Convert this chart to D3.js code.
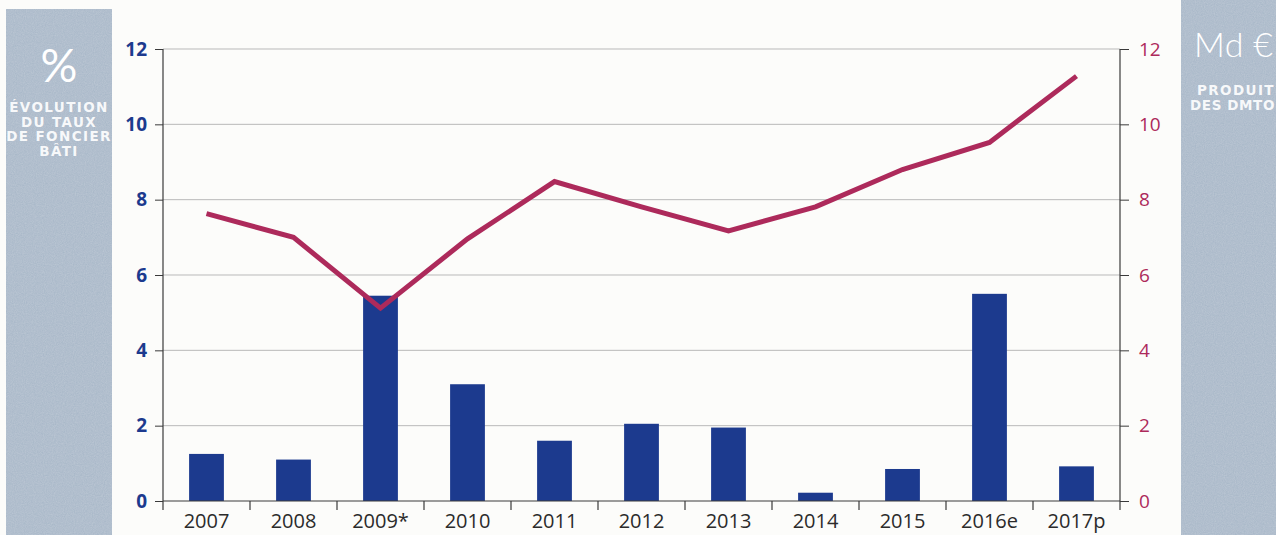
<!DOCTYPE html>
<html>
<head>
<meta charset="utf-8">
<script src="https://cdn.jsdelivr.net/npm/d3@7/dist/d3.min.js"></script>
<style>
  html, body { margin: 0; padding: 0; background: #fcfcfa; }
  svg { display: block; }
</style>
</head>
<body>
<svg id="chart" width="1276" height="535"></svg>
<script>
// Years on the x axis
const years = ["2007", "2008", "2009*", "2010", "2011", "2012", "2013", "2014", "2015", "2016e", "2017p"];
// Évolution du taux de foncier bâti (%), left axis
const foncierPct = [1.25, 1.1, 5.45, 3.1, 1.6, 2.05, 1.95, 0.22, 0.85, 5.5, 0.92];
// Produit des DMTO (Md €), right axis
const dmtoMd = [7.63, 7.0, 5.12, 6.96, 8.48, 7.81, 7.17, 7.81, 8.8, 9.52, 11.28];
// Tick values for both value axes
const leftTicks = [0, 2, 4, 6, 8, 10, 12];
const rightTicks = [0, 2, 4, 6, 8, 10, 12];

const svg = d3.select("#chart");
const W = 1276, H = 535;
const plot = { left: 163, right: 1120, top: 49, bottom: 501 };

const panelFill = "#a6b6c7";
const blue = "#1c3a8e";
const crimson = "#ad2a5b";
const axisInk = "#3a3a3a";

// Grain for the grey side panels
const defs = svg.append("defs");
const grain = defs.append("filter").attr("id", "grain").attr("x", 0).attr("y", 0).attr("width", 1).attr("height", 1);
grain.append("feTurbulence").attr("type", "fractalNoise").attr("baseFrequency", 0.9).attr("numOctaves", 2).attr("seed", 4).attr("result", "noise");
grain.append("feColorMatrix").attr("in", "noise").attr("type", "matrix")
  .attr("values", "0 0 0 0 1  0 0 0 0 1  0 0 0 0 1  0 0 0 0.2 0").attr("result", "speck");
grain.append("feComposite").attr("in", "speck").attr("in2", "SourceGraphic").attr("operator", "in").attr("result", "speckIn");
grain.append("feMerge").selectAll("feMergeNode").data(["SourceGraphic", "speckIn"]).join("feMergeNode").attr("in", d => d);

const titleFont = "'DejaVu Sans', sans-serif";

// Side panels with axis titles
const leftPanel = svg.append("g");
leftPanel.append("rect").attr("x", 6).attr("y", 9).attr("width", 106).attr("height", H - 9)
  .attr("fill", panelFill).attr("filter", "url(#grain)");
leftPanel.append("text").attr("x", 59).attr("y", 82).attr("text-anchor", "middle")
  .attr("font-family", "Lato, 'Open Sans', sans-serif").attr("font-weight", 400).attr("font-size", 46)
  .attr("fill", "#fff").text("%");
const leftTitle = ["ÉVOLUTION", "DU TAUX", "DE FONCIER", "BÂTI"];
leftPanel.selectAll("text.lt").data(leftTitle).join("text").attr("class", "lt")
  .attr("x", 59).attr("y", (d, i) => 112 + i * 14.6).attr("text-anchor", "middle")
  .attr("font-family", titleFont).attr("font-weight", 700).attr("font-size", 13.5)
  .attr("letter-spacing", 1.4)
  .attr("fill", "#fff").attr("fill-opacity", 0.92).text(d => d);

const rightPanel = svg.append("g");
rightPanel.append("rect").attr("x", 1181).attr("y", 0).attr("width", W - 1181).attr("height", H)
  .attr("fill", panelFill).attr("filter", "url(#grain)");
rightPanel.append("text").attr("x", 1194).attr("y", 57)
  .attr("font-family", "Lato, 'Open Sans', sans-serif").attr("font-weight", 300).attr("font-size", 34)
  .attr("letter-spacing", 0.3)
  .attr("fill", "#fff").text("Md €");
const rightTitle = ["PRODUIT", "DES DMTO"];
rightPanel.selectAll("text.rt").data(rightTitle).join("text").attr("class", "rt")
  .attr("x", (d, i) => i === 0 ? 1197 : 1190).attr("y", (d, i) => 95 + i * 14.6)
  .attr("font-family", titleFont).attr("font-weight", 700).attr("font-size", 13.5)
  .attr("letter-spacing", (d, i) => i === 0 ? 1.4 : 0.6)
  .attr("fill", "#fff").attr("fill-opacity", 0.92).text(d => d);

// Scales
const x = d3.scaleBand().domain(years).range([plot.left, plot.right]).paddingInner(0.6).paddingOuter(0.3);
const yL = d3.scaleLinear().domain([0, 12]).range([plot.bottom, plot.top]);
const yR = d3.scaleLinear().domain([0, 12]).range([plot.bottom, plot.top]);

// Horizontal gridlines
svg.append("g").selectAll("line").data(leftTicks.filter(t => t > 0)).join("line")
  .attr("x1", plot.left).attr("x2", plot.right)
  .attr("y1", d => yL(d)).attr("y2", d => yL(d))
  .attr("stroke", "#b9b9b9").attr("stroke-width", 1);

// Bars
svg.append("g").selectAll("rect").data(years).join("rect")
  .attr("x", d => x(d))
  .attr("width", x.bandwidth())
  .attr("y", (d, i) => yL(foncierPct[i]))
  .attr("height", (d, i) => yL(0) - yL(foncierPct[i]))
  .attr("fill", blue);

// Left axis
const axL = svg.append("g").attr("transform", `translate(${plot.left},0)`)
  .call(d3.axisLeft(yL).tickValues(leftTicks).tickSize(8).tickPadding(8).tickFormat(d3.format("d")));
axL.select(".domain").remove();
axL.selectAll(".tick line").attr("stroke", axisInk);
axL.selectAll(".tick text").attr("fill", blue).attr("font-size", 19).attr("font-weight", 700)
  .attr("font-family", "'Open Sans', sans-serif");
axL.append("line").attr("x1", 0).attr("x2", 0).attr("y1", plot.top).attr("y2", plot.bottom + 9)
  .attr("stroke", axisInk).attr("stroke-width", 1.2);

// Right axis
const axR = svg.append("g").attr("transform", `translate(${plot.right},0)`)
  .call(d3.axisRight(yR).tickValues(rightTicks).tickSize(9).tickPadding(10).tickFormat(d3.format("d")));
axR.select(".domain").remove();
axR.selectAll(".tick line").attr("stroke", axisInk);
axR.selectAll(".tick text").attr("fill", crimson).attr("font-size", 19).attr("font-weight", 400)
  .attr("font-family", "'Open Sans', sans-serif");
axR.append("line").attr("x1", 0).attr("x2", 0).attr("y1", plot.top).attr("y2", plot.bottom + 9)
  .attr("stroke", axisInk).attr("stroke-width", 1.2);

// Bottom axis: ticks sit between the year groups
const axB = svg.append("g").attr("transform", `translate(0,${plot.bottom})`)
  .call(d3.axisBottom(x).tickSize(0).tickPadding(0));
axB.select(".domain").remove();
axB.selectAll(".tick text").attr("fill", "#2b2b2b").attr("font-size", 20)
  .attr("font-family", "'Open Sans', sans-serif").attr("dy", null).attr("y", 27);
axB.append("line").attr("x1", plot.left).attr("x2", plot.right).attr("y1", 0).attr("y2", 0)
  .attr("stroke", axisInk).attr("stroke-width", 1.2);
const step = x.step();
axB.selectAll("line.sep").data(d3.range(1, years.length)).join("line").attr("class", "sep")
  .attr("x1", i => plot.left + i * step).attr("x2", i => plot.left + i * step)
  .attr("y1", 0).attr("y2", 9).attr("stroke", axisInk).attr("stroke-width", 1.2);

// DMTO line
const line = d3.line().x((d, i) => x(years[i]) + x.bandwidth() / 2).y(d => yR(d));
svg.append("path").datum(dmtoMd).attr("d", line)
  .attr("fill", "none").attr("stroke", crimson).attr("stroke-width", 5)
  .attr("stroke-linejoin", "miter").attr("stroke-linecap", "butt");
</script>
</body>
</html>
